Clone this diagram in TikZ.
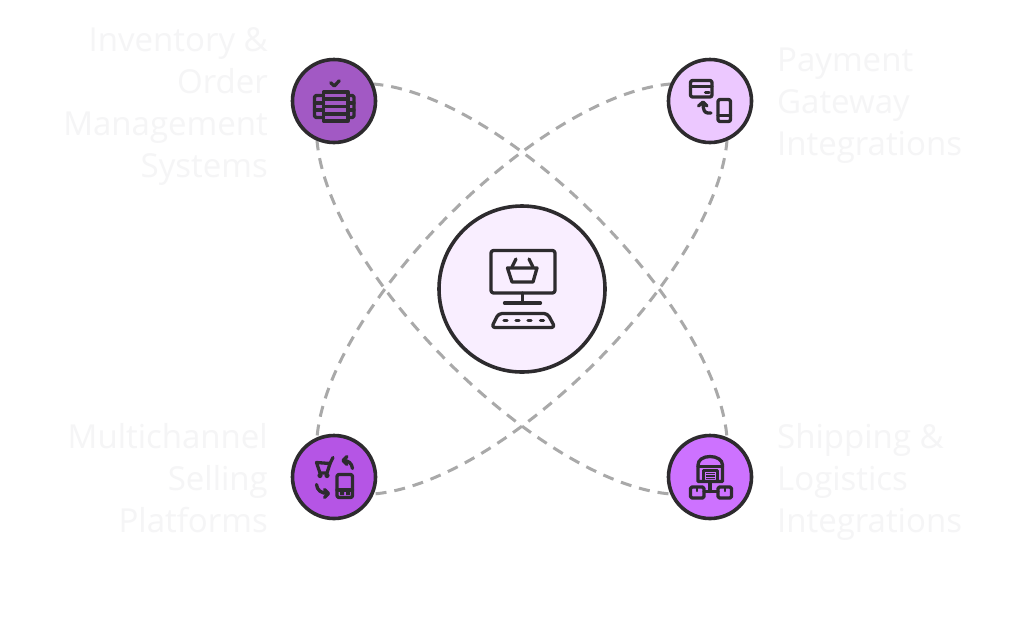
\documentclass[tikz,border=0pt]{standalone}
\usepackage{fontspec}
\setmainfont{Open Sans}
\definecolor{ink}{HTML}{2D2B2E}
\definecolor{lbl}{HTML}{F5F5F6}
\definecolor{dashc}{HTML}{A9A9A9}
\definecolor{fc}{HTML}{F9EEFF}
\definecolor{ftl}{HTML}{A259C4}
\definecolor{ftr}{HTML}{ECC8FF}
\definecolor{fbl}{HTML}{B555E5}
\definecolor{fbr}{HTML}{CD72FF}
\tikzset{
  hub/.style={circle,draw=ink,line width=3.6pt,minimum size=#1,inner sep=0pt},
  anch/.style={circle,minimum size=84pt,inner sep=0pt,outer sep=0pt},
  link/.style={draw=dashc,line width=3pt,dash pattern=on 11pt off 8pt},
  ic/.style={draw=ink,line width=3.3pt,line cap=round,line join=round},
  icthin/.style={draw=ink,line width=2.4pt,line cap=round,line join=round},
  lab/.style={text=lbl,font=\fontsize{33}{42}\selectfont,inner sep=0pt,text depth=0pt},
  labl/.style={lab,anchor=north east,align=right},
  labr/.style={lab,anchor=north west,align=left},
}
\begin{document}
\begin{tikzpicture}[x=1pt,y=-1pt]
\useasboundingbox[fill=white] (0,0) rectangle (1024,625);
\coordinate (ctl) at (334,101);
\coordinate (ctr) at (710,101);
\coordinate (cbl) at (334,477);
\coordinate (cbr) at (710,477);
\node[anch] (tl) at (ctl) {};
\node[anch] (tr) at (ctr) {};
\node[anch] (bl) at (cbl) {};
\node[anch] (br) at (cbr) {};
% connectors
\draw[link] (tl.24) .. controls +(132,10) and +(-10,-132) .. (br.66);
\draw[link] (tl.246) .. controls +(10,132) and +(-132,-10) .. (br.204);
\draw[link] (tr.156) .. controls +(-132,10) and +(10,-132) .. (bl.114);
\draw[link] (tr.294) .. controls +(-10,132) and +(132,-10) .. (bl.336);
% hubs
\node[hub=166pt,fill=fc] (c) at (522,289) {};
\node[hub=83pt,fill=ftl] at (ctl) {};
\node[hub=83pt,fill=ftr] at (ctr) {};
\node[hub=83pt,fill=fbl] at (cbl) {};
\node[hub=83pt,fill=fbr] at (cbr) {};
% centre icon
\draw[ic,rounded corners=2.5pt] (491,250.5) rectangle (555,293);
\draw[ic] (522.5,293) -- (522.5,303) (504.5,303) -- (540.5,303);
\draw[ic,rounded corners=3.5pt] (498.5,313.5) -- (547.5,313.5) -- (555,327.5) -- (491.5,327.5) -- cycle;
\foreach \x in {505.5,517.5,529.5,542}{\draw[ic,line width=3.2pt] (\x-1.5,320.5) -- (\x+1.5,320.5);}
\draw[ic] (507.5,268) -- (537,268) -- (533,282) -- (512,282) -- cycle;
\draw[ic] (512,267) -- (516,259) (533,267) -- (529,259);
% top-left icon
\draw[ic] (330.7,82.7) -- (334.3,86) -- (339.3,80.7);
\draw[ic] (323.5,92) rectangle (348,121);
\draw[ic] (323.5,99) -- (348,99) (323.5,106.5) -- (348,106.5) (323.5,114) -- (348,114);
\draw[ic,rounded corners=1.5pt] (323.5,95.5) -- (314.5,95.5) -- (314.5,117.5) -- (323.5,117.5);
\draw[ic,rounded corners=1.5pt] (348,95.5) -- (354,95.5) -- (354,117.5) -- (348,117.5);
\draw[ic] (314.5,103) -- (323.5,103) (314.5,110) -- (323.5,110) (348,103) -- (354,103) (348,110) -- (354,110);
% top-right icon
\draw[ic,rounded corners=2pt] (690.5,80.5) rectangle (712,97);
\draw[ic] (690.5,86.5) -- (712,86.5);
\draw[ic] (705.5,92.5) -- (709,92.5);
\draw[ic,rounded corners=2pt] (718,99.5) rectangle (730.5,121.5);
\draw[ic] (718,115.5) -- (730.5,115.5);
\draw[ic] (711,113) -- (708,113) .. controls (704.5,113) and (703,110) .. (703,102.5);
\draw[ic] (698.5,106) -- (703,102) -- (707,106);
% bottom-left icon
\draw[ic] (316.5,462.5) -- (330,463.5) -- (327,473) -- (320,473) -- cycle;
\draw[ic] (330,463.5) -- (333,457.5);
\fill[ink] (320,475.5) circle (2.6) (327,475.5) circle (2.6);
\draw[ic,rounded corners=2pt] (337,474.5) rectangle (352.5,497.5);
\draw[ic] (337,490) -- (352.5,490);
\fill[ink] (340,492) rectangle (344,495) (346,492) rectangle (350,495);
\draw[ic] (352.5,468.5) .. controls (352,463) and (348,460.5) .. (343.5,460.5);
\draw[ic] (347,456.5) -- (343,460.5) -- (347,464.5);
\draw[ic] (316.5,484.5) .. controls (317,490) and (321,493.5) .. (328,493.5);
\draw[ic] (324.5,489.5) -- (328.5,493.5) -- (324.5,497.5);
% bottom-right icon
\draw[ic] (698,481.5) -- (698,465) .. controls (698,460) and (703,456.5) .. (710,456.5) .. controls (717,456.5) and (722.5,460) .. (722.5,465) -- (722.5,481.5) -- cycle;
\draw[ic] (698,466.5) -- (722.5,466.5);
\draw[icthin] (703.5,470.5) rectangle (717.5,481.5);
\foreach \y in {473.5,476,478.5}{\draw[ink,line width=1.4pt] (706,\y) -- (715,\y);}
\draw[ic] (710,481.5) -- (710,491.5) (704,491.5) -- (718,491.5);
\draw[ic,rounded corners=1.5pt] (690.5,487) rectangle (704,498);
\draw[ic,rounded corners=1.5pt] (718,487) rectangle (731.5,498);
\draw[icthin] (697.2,487) -- (697.2,491) (724.7,487) -- (724.7,491);
% labels
\node[labl] (l1) at (268,27) {Inventory \&\\Order\\Management\\Systems};
\node[labl] (l2) at (268,423) {Multichannel\\Selling\\Platforms};
\node[labr] (l3) at (777,48) {Payment\\Gateway\\Integrations};
\node[labr] (l4) at (777,423) {Shipping \&\\Logistics\\Integrations};
\end{tikzpicture}
\end{document}
